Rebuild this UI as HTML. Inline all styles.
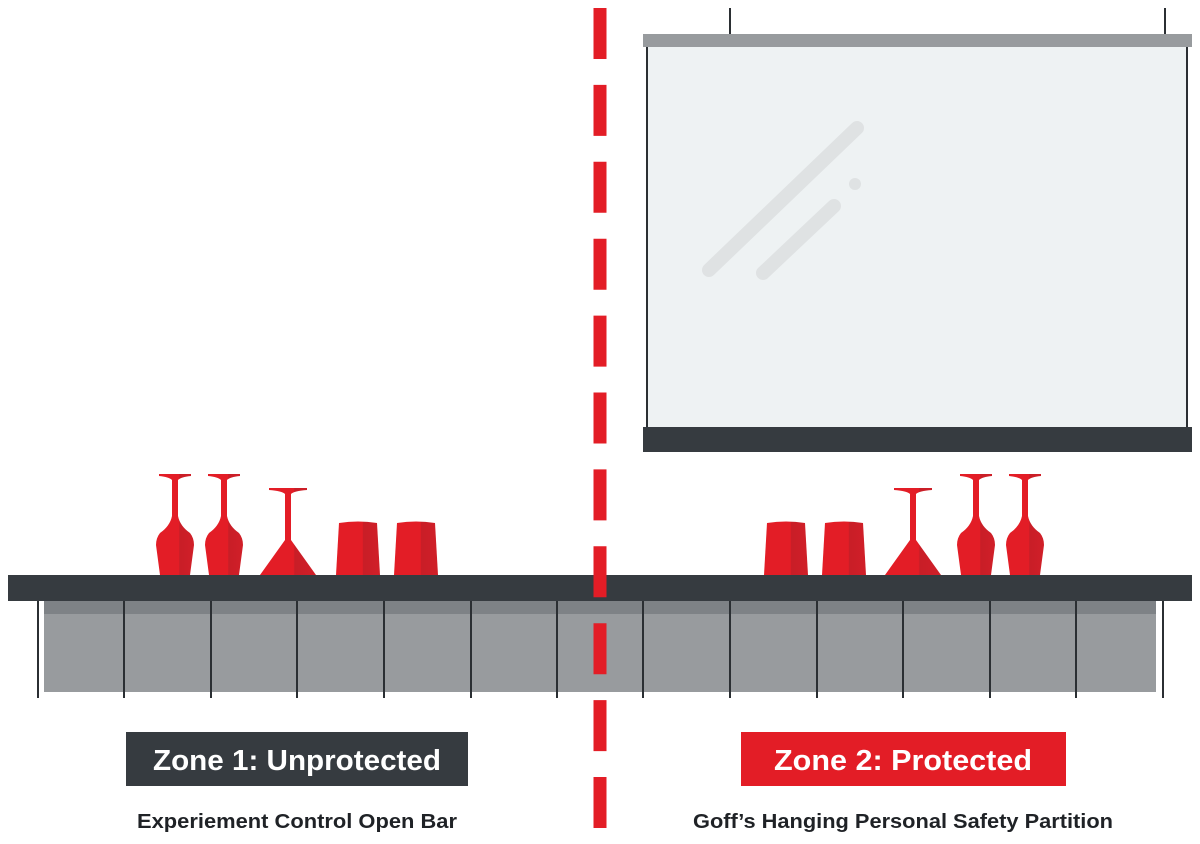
<!DOCTYPE html>
<html><head><meta charset="utf-8"><style>
html,body{margin:0;padding:0;background:#fff;}
svg{display:block;}
</style></head><body>
<svg width="1200" height="844" viewBox="0 0 1200 844" xmlns="http://www.w3.org/2000/svg">
<defs>
<linearGradient id="rg" x1="0" x2="1" y1="0" y2="0">
<stop offset="0" stop-color="#e31d26"/><stop offset="0.6" stop-color="#e31d26"/><stop offset="0.62" stop-color="#c81e27"/><stop offset="1" stop-color="#d11f28"/>
</linearGradient>
<g id="wine">
<path d="M-16,474 L16,474 L16,476 Q6,477 3,480 L3,516 Q5,526 15,533 Q19,538 19,545 L15,575 L-15,575 L-19,545 Q-19,538 -15,533 Q-5,526 -3,516 L-3,480 Q-6,477 -16,476 Z" fill="url(#rg)"/>
</g>
<g id="mart">
<path d="M-19,488 L19,488 L19,490 Q6,491 3,494 L3,540 L28,575 L-28,575 L-3,540 L-3,494 Q-6,491 -19,490 Z" fill="url(#rg)"/>
</g>
<g id="cup">
<path d="M-19,523 Q0,520 19,523 L22,575 L-22,575 Z" fill="url(#rg)"/>
</g>
</defs>

<!-- partition -->
<line x1="730" y1="8" x2="730" y2="36" stroke="#2b2f33" stroke-width="2"/>
<line x1="1165" y1="8" x2="1165" y2="36" stroke="#2b2f33" stroke-width="2"/>
<rect x="647" y="46" width="541" height="382" fill="#eef2f3"/>
<line x1="647" y1="46" x2="647" y2="428" stroke="#2b2f33" stroke-width="2"/>
<line x1="1187" y1="46" x2="1187" y2="428" stroke="#2b2f33" stroke-width="2"/>
<rect x="643" y="34" width="549" height="13" fill="#989b9e"/>
<rect x="643" y="427" width="549" height="25" fill="#363b40"/>
<g stroke="#dfe2e3" stroke-linecap="round" fill="none">
<line x1="709" y1="270" x2="857" y2="128" stroke-width="14"/>
<line x1="763" y1="273" x2="834" y2="206" stroke-width="14"/>
</g>
<circle cx="855" cy="184" r="6" fill="#dfe2e3"/>

<!-- bar -->
<rect x="44" y="601" width="1112" height="91" fill="#989b9e"/>
<rect x="44" y="601" width="1112" height="13" fill="#7e8286"/>
<rect x="8" y="575" width="1184" height="26" fill="#363b40"/>
<g stroke="#2b2f33" stroke-width="2">
<line x1="38" y1="601" x2="38" y2="698"/><line x1="124" y1="601" x2="124" y2="698"/>
<line x1="211" y1="601" x2="211" y2="698"/><line x1="297" y1="601" x2="297" y2="698"/>
<line x1="384" y1="601" x2="384" y2="698"/><line x1="471" y1="601" x2="471" y2="698"/>
<line x1="557" y1="601" x2="557" y2="698"/><line x1="643" y1="601" x2="643" y2="698"/>
<line x1="730" y1="601" x2="730" y2="698"/><line x1="817" y1="601" x2="817" y2="698"/>
<line x1="903" y1="601" x2="903" y2="698"/><line x1="990" y1="601" x2="990" y2="698"/>
<line x1="1076" y1="601" x2="1076" y2="698"/><line x1="1163" y1="601" x2="1163" y2="698"/>
</g>

<!-- glasses -->
<use href="#wine" transform="translate(175,0)"/>
<use href="#wine" transform="translate(224,0)"/>
<use href="#mart" transform="translate(288,0)"/>
<use href="#cup" transform="translate(358,0)"/>
<use href="#cup" transform="translate(416,0)"/>
<use href="#cup" transform="translate(786,0)"/>
<use href="#cup" transform="translate(844,0)"/>
<use href="#mart" transform="translate(913,0)"/>
<use href="#wine" transform="translate(976,0)"/>
<use href="#wine" transform="translate(1025,0)"/>

<!-- red dashed line -->
<line x1="600" y1="8" x2="600" y2="828" stroke="#e31d26" stroke-width="13" stroke-dasharray="51 25.9"/>

<!-- labels -->
<rect x="126" y="732" width="342" height="54" fill="#363b40"/>
<text x="297" y="770" text-anchor="middle" font-family="Liberation Sans, sans-serif" font-weight="bold" font-size="29" fill="#fff" textLength="288" lengthAdjust="spacingAndGlyphs">Zone 1: Unprotected</text>
<text x="297" y="828" text-anchor="middle" font-family="Liberation Sans, sans-serif" font-weight="bold" font-size="20" fill="#1f2226" textLength="320" lengthAdjust="spacingAndGlyphs">Experiement Control Open Bar</text>
<rect x="741" y="732" width="325" height="54" fill="#e31d26"/>
<text x="903" y="770" text-anchor="middle" font-family="Liberation Sans, sans-serif" font-weight="bold" font-size="29" fill="#fff" textLength="258" lengthAdjust="spacingAndGlyphs">Zone 2: Protected</text>
<text x="903" y="828" text-anchor="middle" font-family="Liberation Sans, sans-serif" font-weight="bold" font-size="20" fill="#1f2226" textLength="420" lengthAdjust="spacingAndGlyphs">Goff’s Hanging Personal Safety Partition</text>
</svg>
</body></html>
